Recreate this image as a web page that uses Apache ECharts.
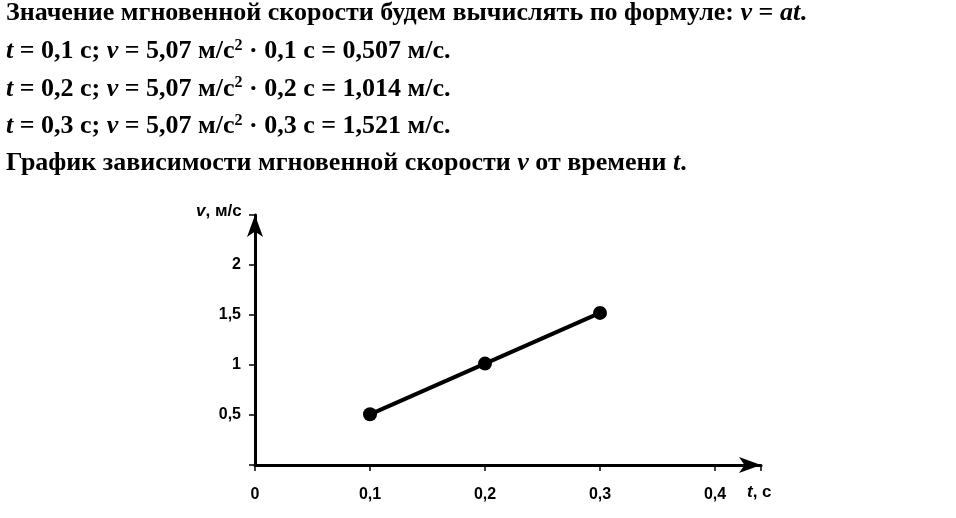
<!DOCTYPE html>
<html><head><meta charset="utf-8">
<script src="https://cdn.jsdelivr.net/npm/echarts@6/dist/echarts.min.js"></script>
<style>html,body{margin:0;background:#fff}#c{width:956px;height:518px}</style>
</head><body><div id="c"></div>
<script>
const times = [0.1, 0.2, 0.3];
const speeds = [0.507, 1.014, 1.521];
const xTicks = ['0', '0,1', '0,2', '0,3', '0,4'];
const yTicks = ['', '0,5', '1', '1,5', '2'];
const lines = [
  'Значение мгновенной скорости будем вычислять по формуле: {i|v} = {i|at}.',
  '{i|t} = 0,1 с; {i|v} = 5,07 м/с{s|2} · 0,1 с = 0,507 м/с.',
  '{i|t} = 0,2 с; {i|v} = 5,07 м/с{s|2} · 0,2 с = 1,014 м/с.',
  '{i|t} = 0,3 с; {i|v} = 5,07 м/с{s|2} · 0,3 с = 1,521 м/с.',
  'График зависимости мгновенной скорости {i|v} от времени {i|t}.'
];
const F = 'Liberation Serif';
const FS = 26;
const rich = {i:{fontStyle:'italic',fontWeight:'bold',fontFamily:F,fontSize:FS,fill:'#000'}, s:{fontSize:16,fontWeight:'bold',fontFamily:F,verticalAlign:'top',padding:[0,0,12,0],fill:'#000'}};
const chart = echarts.init(document.getElementById('c'));
chart.setOption({
  animation:false,
  graphic: lines.map((t,k)=>({type:'text',left:6,top:0+k*37.5,style:{text:t,fontFamily:F,fontWeight:'bold',fontSize:FS,fill:'#000',rich:rich}}))
   .concat([
    {type:'text',left:196,top:203,style:{text:'{i|v}, м/с',fontFamily:'Arial',fontWeight:'bold',fontSize:17,fill:'#000',rich:{i:{fontStyle:'italic',fontWeight:'bold',fontFamily:'Arial',fontSize:17}}}},
    {type:'text',left:747,top:484,style:{text:'{i|t}, с',fontFamily:'Arial',fontWeight:'bold',fontSize:17,fill:'#000',rich:{i:{fontStyle:'italic',fontWeight:'bold',fontFamily:'Arial',fontSize:17}}}}
   ]),
  grid:{left:255,top:215,width:506,height:250},
  xAxis:{type:'value',min:0,max:0.44,interval:0.1,
    axisLine:{lineStyle:{color:'#000',width:3},symbol:['none','arrow'],symbolSize:[12,22]},
    axisTick:{show:true,length:6,lineStyle:{color:'#000',width:1.5}},
    splitLine:{show:false},
    axisLabel:{margin:22,fontFamily:'Arial',fontWeight:'bold',fontSize:16,color:'#000',
      formatter:(v)=>{const k=v*10; return Math.abs(k-Math.round(k))<1e-6 ? xTicks[Math.round(k)] : '';}}},
  yAxis:{type:'value',min:0,max:2.5,interval:0.5,
    axisLine:{show:true,onZero:false,lineStyle:{color:'#000',width:3},symbol:['none','arrow'],symbolSize:[12,22]},
    axisTick:{show:true,length:6,lineStyle:{color:'#000',width:1.5}},
    splitLine:{show:false},
    axisLabel:{margin:14,fontFamily:'Arial',fontWeight:'bold',fontSize:16,color:'#000',formatter:(v)=>yTicks[Math.round(v*2)]||''}},
  series:[{type:'line',data:times.map((t,k)=>[t,speeds[k]]),symbol:'circle',symbolSize:14,
    lineStyle:{color:'#000',width:4},itemStyle:{color:'#000'}}]
});
</script></body></html>
